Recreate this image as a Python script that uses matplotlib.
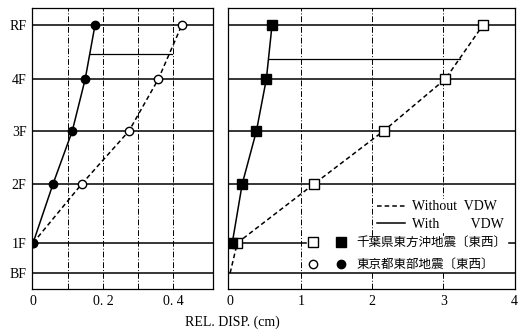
import matplotlib.pyplot as plt
from matplotlib.lines import Line2D
from matplotlib.legend_handler import HandlerTuple

plt.rcParams['font.family'] = ['Liberation Serif', 'Noto Sans CJK JP']
plt.rcParams['font.size'] = 10

floors = ['BF', '1F', '2F', '3F', '4F', 'RF']
floor_y = [-3.0, 0.0, 5.9, 11.2, 16.4, 21.8]

# 1F .. RF
left_without = [0.0, 0.139, 0.274, 0.358, 0.425]
left_with = [0.0, 0.057, 0.112, 0.149, 0.177]
# BF .. RF (BF point has no marker)
right_without = [0.0, 0.10, 1.18, 2.16, 3.03, 3.56]
right_with = [0.03, 0.17, 0.37, 0.51, 0.59]

left_bar_x = [0.163, 0.397]
left_bar_y = 18.9
right_bar_x = [0.55, 3.24]
right_bar_y = 18.4

fig = plt.figure(figsize=(5.21, 3.36), dpi=100)
ax1 = fig.add_axes([32 / 521, 1 - 289 / 336, 181 / 521, 281 / 336])
ax2 = fig.add_axes([228 / 521, 1 - 289 / 336, 287 / 521, 281 / 336])

for ax in (ax1, ax2):
    for i, y in enumerate(floor_y):
        # basement line stays on top of the legend box
        ax.axhline(y, color='black', lw=1.1, zorder=6 if i == 0 else 1)
    ax.set_ylim(-4.6, 23.5)
    ax.set_yticks(floor_y)
    ax.tick_params(length=0, pad=4, labelsize=10)
    for s in ax.spines.values():
        s.set_linewidth(0.9)

ax1.set_yticklabels(floors)
ax2.set_yticklabels([])

# left panel
ax1.set_xlim(-0.003, 0.514)
ax1.set_xticks([0, 0.2, 0.4])
ax1.set_xticklabels(['0', '0. 2', '0. 4'])
for x in [0.1, 0.2, 0.3, 0.4]:
    ax1.axvline(x, color='black', lw=0.7, ls=(0, (6, 2, 1, 2)), zorder=1)
ax1.plot(left_without, floor_y[1:], color='black', lw=1.1, ls=(0, (3, 2)),
         marker='o', ms=6, mfc='white', mec='black', mew=1.0, zorder=3)
ax1.plot(left_with, floor_y[1:], color='black', lw=1.1,
         marker='o', ms=6, mfc='black', mec='black', zorder=3)
ax1.plot(left_bar_x, [left_bar_y, left_bar_y], color='black', lw=0.9, zorder=2)

# right panel
ax2.set_xlim(-0.03, 4.01)
ax2.set_xticks([0, 1, 2, 3, 4])
for x in [1, 2, 3]:
    ax2.axvline(x, color='black', lw=0.7, ls=(0, (6, 2, 1, 2)), zorder=1)
ax2.plot(right_without, floor_y, color='black', lw=1.1, ls=(0, (3, 2)),
         marker='s', ms=7, mfc='white', mec='black', mew=1.0,
         markevery=list(range(1, 6)), zorder=3)
ax2.plot(right_with, floor_y[1:], color='black', lw=1.1,
         marker='s', ms=7, mfc='black', mec='black', zorder=3)
ax2.plot(right_bar_x, [right_bar_y, right_bar_y], color='black', lw=0.9, zorder=2)

# legends
h_without = Line2D([], [], color='black', lw=1.1, ls=(0, (3, 2)))
h_with = Line2D([], [], color='black', lw=1.1)
leg1 = ax2.legend([h_without, h_with], ['Without  VDW', 'With         VDW'],
                  loc='upper left', bbox_to_anchor=(0.49, 0.345),
                  frameon=True, fancybox=False, edgecolor='white', facecolor='white',
                  framealpha=1, handlelength=2.0, handletextpad=0.5,
                  borderpad=0.1, labelspacing=0.3, fontsize=10)
ax2.add_artist(leg1)

sq_open = Line2D([], [], ls='none', marker='s', ms=6.5, mfc='white', mec='black')
sq_fill = Line2D([], [], ls='none', marker='s', ms=6.5, mfc='black', mec='black')
ci_open = Line2D([], [], ls='none', marker='o', ms=6, mfc='white', mec='black')
ci_fill = Line2D([], [], ls='none', marker='o', ms=6, mfc='black', mec='black')
leg2 = ax2.legend([(sq_open, sq_fill), (ci_open, ci_fill)],
                  ['千葉県東方沖地震〔東西〕', '東京都東部地震〔東西〕'],
                  handler_map={tuple: HandlerTuple(ndivide=None, pad=1.5)},
                  loc='lower left', bbox_to_anchor=(0.255, 0.04),
                  frameon=True, fancybox=False, edgecolor='white', facecolor='white',
                  framealpha=1, handlelength=3.0, handletextpad=0.9,
                  borderpad=0.05, labelspacing=0.8, fontsize=9)

fig.text(232 / 521, 1 - 322 / 336, 'REL. DISP. (cm)', ha='center', va='center', fontsize=10)

fig.savefig('out.png', dpi=100)
